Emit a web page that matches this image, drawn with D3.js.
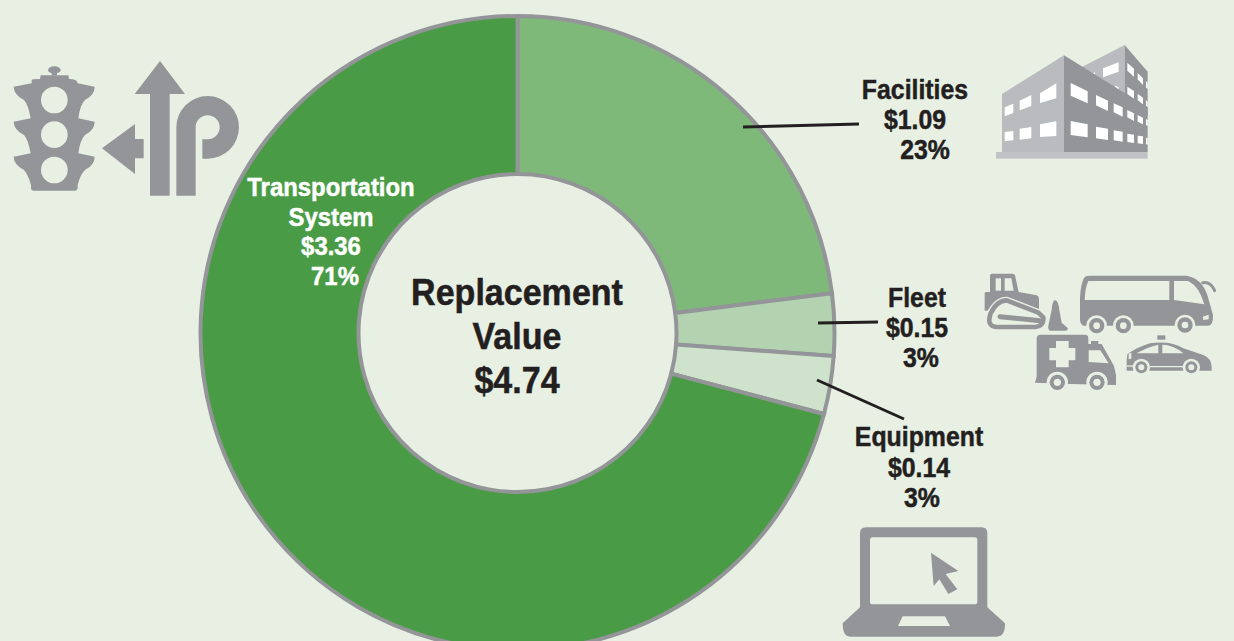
<!DOCTYPE html>
<html>
<head>
<meta charset="utf-8">
<script src="https://cdnjs.cloudflare.com/ajax/libs/d3/7.8.5/d3.min.js"></script>
<style>
  html, body { margin: 0; padding: 0; background: #e8f0e4; overflow: hidden; }
  svg { display: block; }
  text { font-family: "Liberation Sans", sans-serif; font-weight: 700; }
</style>
</head>
<body>
<svg id="chart"></svg>
<script>
const categories = ["Facilities", "Fleet", "Equipment", "Transportation System"];
const values = [1.09, 0.15, 0.14, 3.36];
const percents = ["23%", "3%", "3%", "71%"];
const totalLabel = ["Replacement", "Value", "$4.74"];

const width = 1234, height = 641;
const cx = 517.5, cy = 333, outerR = 317, innerR = 159;
const bg = "#e8f0e4", grey = "#939598", ink = "#231f20";
const sliceColors = ["#7fb97a", "#b3d3b0", "#cfe2cc", "#4a9b45"];

var svg = d3.select("#chart").attr("width", width).attr("height", height);
svg.append("rect").attr("width", width).attr("height", height).attr("fill", bg);

// donut
var pie = d3.pie().sort(null);
var arc = d3.arc().innerRadius(innerR).outerRadius(outerR);
svg.append("g")
  .attr("transform", `translate(${cx},${cy})`)
  .selectAll("path")
  .data(pie(values))
  .enter().append("path")
  .attr("d", arc)
  .attr("fill", (d, i) => sliceColors[i])
  .attr("stroke", grey)
  .attr("stroke-width", 4);

// leader lines [x1,y1,x2,y2]
const leaders = [[743, 127, 859, 124], [818, 323, 878, 322], [817, 380, 904, 419]];
svg.selectAll("line.leader").data(leaders).enter().append("line")
  .attr("class", "leader")
  .attr("x1", d => d[0]).attr("y1", d => d[1])
  .attr("x2", d => d[2]).attr("y2", d => d[3])
  .attr("stroke", ink).attr("stroke-width", 3);

// labels, one text per line. the reference face is condensed, so squeeze x
function block(lines, xs, y0, lh, size, fill) {
  lines.forEach((t, i) => {
    svg.append("text")
      .attr("transform", `translate(${xs[i]},${y0 + i * lh}) scale(0.92,1)`)
      .attr("text-anchor", "middle").attr("font-size", size)
      .attr("fill", fill).attr("stroke", fill).attr("stroke-width", 0.5)
      .text(t);
  });
}
const money = values.map(v => "$" + v.toFixed(2));
block([categories[0], money[0], percents[0]], [915, 915, 925], 99, 30, 27, ink);
block([categories[1], money[1], percents[1]], [917, 917, 921], 307, 30, 27, ink);
block([categories[2], money[2], percents[2]], [919, 919, 922], 446, 30.5, 27, ink);
block(["Transportation", "System", money[3], percents[3]], [331, 331, 331, 335], 196, 29.5, 26, "#fff");
block(totalLabel, [517, 517, 517], 305, 44, 37, ink);

// icons, traced in 3x coordinates
function icon(x, y) {
  return svg.append("g").attr("transform", `translate(${x},${y}) scale(${1 / 3})`);
}
function paths(g, list, fill) {
  list.forEach(d => g.append("path").attr("d", d).attr("fill", fill));
}
function poly(p) {
  return "M" + d3.range(p.length / 2).map(q => p[q * 2] + " " + p[q * 2 + 1]).join("L") + "Z";
}
function wheels(g, list, r) {
  list.forEach(c => {
    g.append("circle").attr("cx", c[0]).attr("cy", c[1]).attr("r", r[0]).attr("fill", bg);
    g.append("circle").attr("cx", c[0]).attr("cy", c[1]).attr("r", r[1]).attr("fill", grey);
    g.append("circle").attr("cx", c[0]).attr("cy", c[1]).attr("r", r[2]).attr("fill", bg);
  });
}

// traffic light + arrows
var road = icon(0, 50);
road.append("ellipse").attr("cx", 163).attr("cy", 60).attr("rx", 19).attr("ry", 11).attr("fill", grey);
paths(road, [
  "M155 65H171V76H155Z",
  "M95 100L95 90Q95 87 120 87L122 76H205L207 87Q232 87 233 100L284 110Q284 135 255 150Q240 165 235 205L284 215Q284 240 255 255Q240 270 235 310L284 320Q284 345 255 360Q240 375 233 405V415Q232 422 225 422H100Q93 422 93 415V405Q85 375 72 360Q42 345 41 320L92 310Q85 270 72 255Q42 240 41 215L92 205Q85 165 72 150Q42 135 41 110Z",
  "M306 295L405 222V267H431V325H405V372Z",
  "M480 33L555 132H509V437H450V132H404Z",
  "M529 437V232A94 94 0 1 1 623 326H607V268H623A36 36 0 1 0 587 232V437Z"
], grey);
[150, 254, 360].forEach(y => road.append("circle").attr("cx", 163).attr("cy", y).attr("r", 40).attr("fill", bg));

// building
var bld = icon(980, 30);
paths(bld, ["M307 110L434 45V200H307Z", "M66 192L252 76V366H66Z"], "#b9bbbe");
paths(bld, ["M434 45L503 125V260L434 210Z"], grey);
const backWindows = [
  [369, 115, 416, 97, 416, 125, 369, 142], [336, 131, 345, 127, 345, 137, 336, 133],
  [442, 98, 462, 116, 462, 140, 442, 122], [473, 129, 489, 145, 489, 165, 473, 148], [498, 153, 503, 158, 503, 178, 498, 172],
  [442, 170, 462, 183, 462, 207, 442, 192], [473, 191, 489, 203, 489, 224, 473, 210], [498, 211, 503, 215, 503, 232, 498, 228],
  [405, 167, 416, 171, 416, 180, 405, 175]
];
paths(bld, backWindows.map(poly), "#fff");
paths(bld, ["M252 76L503 232V366H252Z"], grey);
const frontWindows = [
  [74, 232, 100, 221, 100, 249, 74, 259], [119, 212, 154, 195, 154, 228, 119, 241], [180, 190, 229, 160, 229, 205, 180, 219],
  [74, 306, 100, 303, 100, 331, 74, 334], [119, 296, 154, 291, 154, 325, 119, 329], [180, 283, 229, 274, 229, 318, 180, 321],
  [272, 159, 323, 184, 323, 220, 272, 197], [348, 195, 384, 212, 384, 243, 348, 226], [401, 220, 428, 232, 428, 260, 401, 247],
  [442, 240, 462, 250, 462, 273, 442, 262], [473, 255, 489, 263, 489, 283, 473, 275], [498, 267, 503, 270, 503, 288, 498, 285],
  [272, 273, 323, 283, 323, 322, 272, 315], [348, 290, 384, 296, 384, 330, 348, 325], [401, 301, 428, 305, 428, 335, 401, 331],
  [442, 311, 462, 314, 462, 339, 442, 336], [473, 317, 489, 319, 489, 342, 473, 340], [498, 323, 503, 324, 503, 344, 498, 343]
];
paths(bld, frontWindows.map(poly), "#fff");
bld.append("rect").attr("x", 48).attr("y", 366).attr("width", 455).attr("height", 20).attr("fill", "#c0c2c5");

// fleet
var fleet = icon(970, 260);
// bulldozer
paths(fleet, [
  "M60 46Q60 41 66 41H128Q134 41 135 46L146 96L200 106Q207 108 207 116V152L120 118Q90 112 70 130L52 152H44V100Q44 96 50 96H60Z",
  "M255 121Q265 121 268 150L275 188L293 204Q295 212 285 212H240Q232 210 236 192L245 150Q247 121 255 121Z"
], grey);
paths(fleet, ["M77 55H93V92H77Z", "M104 55H124L131 92H104Z"], bg);
const trackPath = "M110 121Q80 122 62 160Q48 198 80 201H196Q222 198 220 172L205 158Z";
fleet.append("path").attr("d", trackPath)
  .attr("fill", "none").attr("stroke", bg).attr("stroke-width", 22);
fleet.append("path").attr("d", trackPath)
  .attr("fill", "none").attr("stroke", grey).attr("stroke-width", 14).attr("stroke-linejoin", "round");
fleet.append("path").attr("d", "M90 170L210 182").attr("stroke", grey).attr("stroke-width", 15).attr("stroke-linecap", "round");
// bus
paths(fleet, ["M345 50Q350 47 360 47H650Q695 55 712 105L729 165Q730 196 715 197H340Q330 195 330 175V115Q332 65 345 50Z"], grey);
paths(fleet, ["M355 63H598V120H344Q345 85 355 63Z", "M612 63H655Q688 80 703 133L612 120Z", "M698 170L716 164V178L700 180Z"], bg);
fleet.append("path").attr("d", "M698 68Q722 64 734 92").attr("fill", "none").attr("stroke", grey).attr("stroke-width", 9).attr("stroke-linecap", "round");
wheels(fleet, [[380, 197], [460, 197], [645, 195]], [31, 23, 10]);
// ambulance
paths(fleet, ["M200 235Q200 224 212 224H345Q355 224 355 235V252H395L432 318L438 345V375L300 372L195 368L200 350Z", "M363 243H385V254H363Z"], grey);
paths(fleet, ["M356 271H391L416 310L356 306Z", "M258 243H296V264H316V301H296V322H258V301H238V264H258Z"], bg);
wheels(fleet, [[262, 367], [381, 367]], [32, 23, 11]);
// police car
paths(fleet, [
  "M472 283Q500 262 540 250Q600 240 640 265L700 285Q725 295 725 322V332H470V300Z",
  "M562 226H586V239H562Z"
], grey);
paths(fleet, ["M500 280Q530 262 565 254V280Z", "M577 254Q610 254 640 280H577Z", "M476 281L484 278V296L476 298Z", "M470 316H490V320H470Z", "M540 318H640V322H540Z"], bg);
wheels(fleet, [[514, 322], [664, 322]], [26, 18, 9]);

// laptop
var laptop = icon(830, 520);
paths(laptop, ["M90 40Q90 22 108 22H455Q472 22 472 40V262L525 310Q526 350 500 350H60Q38 350 38 310L90 262Z"], grey);
laptop.append("rect").attr("x", 120).attr("y", 52).attr("width", 322).attr("height", 201).attr("rx", 8).attr("fill", bg);
paths(laptop, ["M218 289H345L360 318H204Z"], bg);
paths(laptop, ["M303 98L385 153L347 162L382 208L355 222L328 178L311 198Z"], grey);
</script>
</body>
</html>
